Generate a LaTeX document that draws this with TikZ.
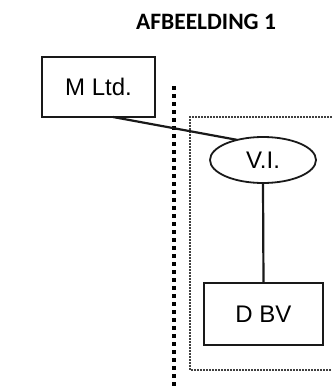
\documentclass[tikz,border=0pt]{standalone}
\usepackage{fontspec}
\setmainfont{Liberation Sans}
\newfontfamily\titlefont{Carlito}
\usetikzlibrary{shapes.geometric}
\definecolor{LineClr}{rgb}{0.1,0.1,0.1}
\definecolor{FrameClr}{rgb}{0.25,0.25,0.25}

\begin{document}
\begin{tikzpicture}[x=1pt,y=-1pt,
  entity/.style={draw=LineClr,line width=1.8pt,rectangle,inner sep=0pt,outer sep=0pt,
    font=\fontsize{24}{28}\selectfont},
  link/.style={draw=LineClr,line width=2.2pt}]
\useasboundingbox (0,0) rectangle (332,389);

\node[font=\titlefont\bfseries\fontsize{23.5}{28}\selectfont] (T) at (206,22) {AFBEELDING 1};

\node[entity,minimum width=113pt,minimum height=60pt] (ML) at (98.5,87) {M Ltd.};
\node[entity,ellipse,minimum width=106pt,minimum height=46pt] (VI) at (263,160) {V.I.};
\node[entity,minimum width=119pt,minimum height=62pt] (DBV) at (263.5,314) {D BV};

% borders
\draw[line width=4.5pt,dash pattern=on 4pt off 4pt] (174,86) -- (174,389);
\draw[FrameClr,line width=1.5pt,dash pattern=on 2pt off 1pt] (332,117) -| (190,370) -- (332,370);

\coordinate (S) at ([xshift=14.5pt]ML.south);
\draw[link] (S) -- (VI.142);
\draw[link] (VI.south) -- (DBV.north);

\end{tikzpicture}
\end{document}
